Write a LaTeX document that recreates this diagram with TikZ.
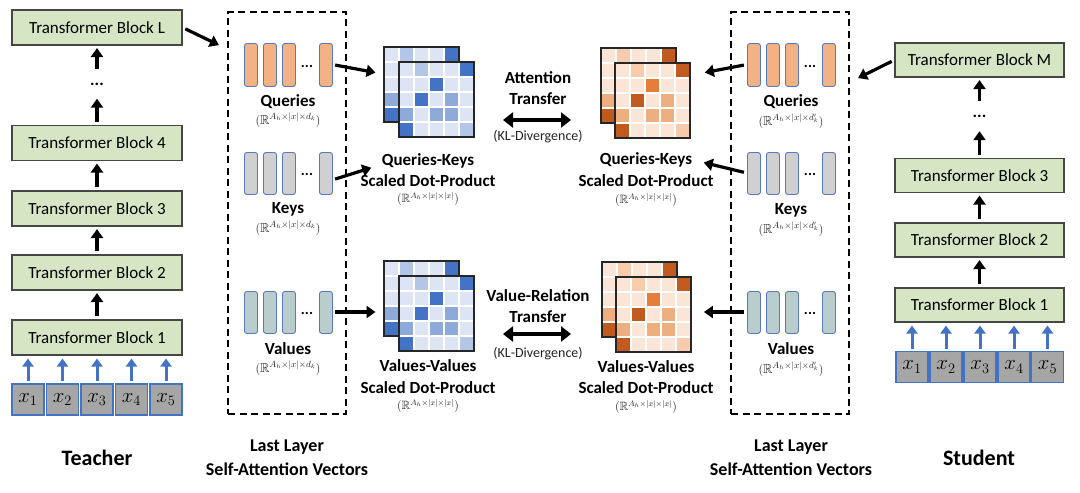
\documentclass[tikz,border=0pt]{standalone}
\usepackage{amssymb}
\usepackage[no-math]{fontspec}
\setmainfont{Carlito}
\usetikzlibrary{arrows.meta,calc}
\definecolor{blkgreen}{RGB}{214,230,196}
\definecolor{blkline}{RGB}{70,70,70}
\definecolor{tokgray}{RGB}{166,166,166}
\definecolor{myblue}{RGB}{68,114,196}
\definecolor{qfill}{RGB}{242,178,134}
\definecolor{kfill}{RGB}{208,208,208}
\definecolor{vfill}{RGB}{186,205,205}
\definecolor{barline}{RGB}{90,120,190}
\definecolor{mathgray}{RGB}{35,35,35}
\definecolor{mb0}{RGB}{221,228,243}
\definecolor{mb1}{RGB}{180,198,231}
\definecolor{mb2}{RGB}{142,170,219}
\definecolor{mb3}{RGB}{68,114,196}
\definecolor{mb4}{RGB}{68,114,196}
\definecolor{mo0}{RGB}{251,229,214}
\definecolor{mo1}{RGB}{248,203,173}
\definecolor{mo2}{RGB}{238,175,128}
\definecolor{mo3}{RGB}{192,90,30}
\definecolor{mo4}{RGB}{228,126,58}
\newcommand\attnmat[3]{%
  \node[inner sep=0, minimum size=75pt, anchor=north west, fill=white] (#1) at #2 {};
  \foreach \rw [count=\i] in {{0,1,0,0,3},{0,0,4,0,0},{0,3,0,2,0},{2,0,2,2,0},{3,0,0,0,1}}{
    \foreach \v [count=\j] in \rw {
      \filldraw[fill=#3\v, draw=white, line width=1.2pt] ($(#1.north west)+({(\j-1)*15},{(\i-1)*15})$) rectangle ++(15,15);
    }
  }
  \draw[line width=2pt, black!85] (#1.north west) rectangle (#1.south east);
}
\tikzset{
  block/.style={draw=blkline, fill=blkgreen, line width=1.1pt, minimum width=170pt, minimum height=35pt, inner sep=0, font=\fontsize{17}{20}\selectfont},
  token/.style={draw=myblue, fill=tokgray, line width=1.1pt, minimum width=32pt, minimum height=31pt, inner sep=0, font=\fontsize{20}{24}\selectfont},
  dotsn/.style={minimum height=24pt, inner sep=0, font=\bfseries\fontsize{17}{20}\selectfont},
  bar/.style={draw=barline, line width=0.9pt, rounded corners=2.5pt, minimum width=13pt, minimum height=43pt, inner sep=0, anchor=north west},
  grp/.style={inner sep=0, minimum width=88pt, minimum height=43pt},
  lbl/.style={inner sep=1pt, font=\bfseries\fontsize{17}{20}\selectfont},
  biglbl/.style={inner sep=1pt, font=\bfseries\fontsize{18}{21}\selectfont},
  actor/.style={font=\bfseries\fontsize{22}{26}\selectfont},
  mathl/.style={inner sep=0.5pt, text=mathgray, font=\fontsize{13}{15}\selectfont},
  kl/.style={inner sep=1pt, text=mathgray, font=\fontsize{14}{16}\selectfont},
  dbox/.style={draw, dash pattern=on 7pt off 4.5pt, line width=1.6pt, minimum width=118pt, minimum height=402pt, inner sep=0},
  arr/.style={line width=3.2pt, -{Triangle[length=9pt,width=12pt]}, shorten <=3pt, shorten >=2.5pt},
  barr/.style={draw=myblue, line width=3pt, -{Triangle[length=8pt,width=11pt]}, shorten <=2pt, shorten >=3pt},
  darr/.style={line width=4pt, {Triangle[length=10pt,width=15pt]}-{Triangle[length=10pt,width=15pt]}}
}
\begin{document}
\begin{tikzpicture}[x=1pt,y=-1pt]
\useasboundingbox[fill=white] (0,0) rectangle (1080,493);

% ---------- Teacher column ----------
\node[block] (tL) at (97,27.5) {Transformer Block L};
\node[dotsn] (tDots) at (97,84) {...};
\node[block] (t4) at (97,143) {Transformer Block 4};
\node[block] (t3) at (97,208.5) {Transformer Block 3};
\node[block] (t2) at (97,272.5) {Transformer Block 2};
\node[block] (t1) at (97,337.5) {Transformer Block 1};
\foreach \xx [count=\k] in {28,62.5,97,131.5,166}{
  \node[token] (tx\k) at (\xx,399.5) {$x_{\k}$};
  \draw[barr] (tx\k.north) -- (tx\k.north |- t1.south);
}
\draw[arr] (t1.north) -- (t2.south);
\draw[arr] (t2.north) -- (t3.south);
\draw[arr] (t3.north) -- (t4.south);
\draw[arr] (t4.north) -- (tDots.south);
\draw[arr] (tDots.north) -- (tL.south);
\node[actor] (teacher) at (97,458) {Teacher};

% ---------- Student column ----------
\node[block, minimum width=169pt, minimum height=34pt] (sM) at (979.5,60) {Transformer Block M};
\node[dotsn] (sDots) at (979.5,116.5) {...};
\node[block, minimum width=169pt, minimum height=34pt] (s3) at (979.5,175.5) {Transformer Block 3};
\node[block, minimum width=169pt, minimum height=34pt] (s2) at (979.5,240) {Transformer Block 2};
\node[block, minimum width=169pt, minimum height=34pt] (s1) at (979.5,305) {Transformer Block 1};
\foreach \xx [count=\k] in {912,946,980,1014,1047.5}{
  \node[token] (sx\k) at (\xx,367) {$x_{\k}$};
  \draw[barr] (sx\k.north) -- (sx\k.north |- s1.south);
}
\draw[arr] (s1.north) -- (s2.south);
\draw[arr] (s2.north) -- (s3.south);
\draw[arr] (s3.north) -- (sDots.south);
\draw[arr] (sDots.north) -- (sM.south);
\node[actor] (student) at (979,458) {Student};

% ---------- dashed boxes ----------
\node[dbox] (boxT) at (287,213) {};
\node[dbox] (boxS) at (790,213) {};

% bars
\foreach \xx in {0,19,38,75}{
  \node[bar, fill=qfill] (qTb\xx) at (244+\xx,43) {};
  \node[bar, fill=kfill, minimum height=42pt] (kTb\xx) at (244+\xx,152) {};
  \node[bar, fill=vfill, minimum height=42pt] (vTb\xx) at (244+\xx,291) {};
  \node[bar, fill=qfill] (qSb\xx) at (747+\xx,43) {};
  \node[bar, fill=kfill, minimum height=42pt] (kSb\xx) at (747+\xx,152) {};
  \node[bar, fill=vfill, minimum height=42pt] (vSb\xx) at (747+\xx,291) {};
}
\node[dotsn, minimum height=0pt, font=\bfseries\fontsize{15}{18}\selectfont] (qTd) at (307,66) {...};
\node[dotsn, minimum height=0pt, font=\bfseries\fontsize{15}{18}\selectfont] (kTd) at (307,174) {...};
\node[dotsn, minimum height=0pt, font=\bfseries\fontsize{15}{18}\selectfont] (vTd) at (307,313) {...};
\node[dotsn, minimum height=0pt, font=\bfseries\fontsize{15}{18}\selectfont] (qSd) at (810,66) {...};
\node[dotsn, minimum height=0pt, font=\bfseries\fontsize{15}{18}\selectfont] (kSd) at (810,174) {...};
\node[dotsn, minimum height=0pt, font=\bfseries\fontsize{15}{18}\selectfont] (vSd) at (810,313) {...};

\node[grp] (qT) at (288,64.5) {};
\node[grp] (kT) at (288,173) {};
\node[grp] (vT) at (288,312) {};
\node[grp] (qS) at (791,64.5) {};
\node[grp] (kS) at (791,173) {};
\node[grp] (vS) at (791,312) {};

\node[lbl] (qTl) at (288,102) {Queries};
\node[mathl] (qTm) at (288,120) {$(\mathbb{R}^{A_h\times|x|\times d_k})$};
\node[lbl] (kTl) at (288,209) {Keys};
\node[mathl] (kTm) at (288,228) {$(\mathbb{R}^{A_h\times|x|\times d_k})$};
\node[lbl] (vTl) at (288,349) {Values};
\node[mathl] (vTm) at (288,368) {$(\mathbb{R}^{A_h\times|x|\times d_k})$};

\node[lbl] (qSl) at (791,102) {Queries};
\node[mathl] (qSm) at (791,121) {$(\mathbb{R}^{A_h\times|x|\times d'_k})$};
\node[lbl] (kSl) at (791,210) {Keys};
\node[mathl] (kSm) at (791,229) {$(\mathbb{R}^{A_h\times|x|\times d'_k})$};
\node[lbl] (vSl) at (791,349) {Values};
\node[mathl] (vSm) at (791,369) {$(\mathbb{R}^{A_h\times|x|\times d'_k})$};

\node[biglbl] (llT1) at (287,447) {Last Layer};
\node[biglbl] (llT2) at (287,469) {Self-Attention Vectors};
\node[biglbl] (llS1) at (791,447) {Last Layer};
\node[biglbl] (llS2) at (791,469) {Self-Attention Vectors};

% ---------- matrices ----------
\attnmat{mT1b}{(384,47)}{mb}
\attnmat{mT1f}{(399,62)}{mb}
\attnmat{mS1b}{(601,48)}{mo}
\attnmat{mS1f}{(615,63)}{mo}
\attnmat{mT2b}{(384,261)}{mb}
\attnmat{mT2f}{(399,276)}{mb}
\attnmat{mS2b}{(602,262)}{mo}
\attnmat{mS2f}{(616,277)}{mo}

\node[lbl] (qkT1) at (428,161) {Queries-Keys};
\node[lbl] (qkT2) at (428,181) {Scaled Dot-Product};
\node[mathl, font=\fontsize{12}{14}\selectfont] (qkT3) at (428,199) {$(\mathbb{R}^{A_h\times|x|\times|x|})$};
\node[lbl] (qkS1) at (646,160) {Queries-Keys};
\node[lbl] (qkS2) at (646,181) {Scaled Dot-Product};
\node[mathl, font=\fontsize{12}{14}\selectfont] (qkS3) at (646,200) {$(\mathbb{R}^{A_h\times|x|\times|x|})$};
\node[lbl] (vvT1) at (428,366) {Values-Values};
\node[lbl] (vvT2) at (428,388) {Scaled Dot-Product};
\node[mathl, font=\fontsize{12}{14}\selectfont] (vvT3) at (428,406) {$(\mathbb{R}^{A_h\times|x|\times|x|})$};
\node[lbl] (vvS1) at (646,367) {Values-Values};
\node[lbl] (vvS2) at (646,388) {Scaled Dot-Product};
\node[mathl, font=\fontsize{12}{14}\selectfont] (vvS3) at (646,407) {$(\mathbb{R}^{A_h\times|x|\times|x|})$};

% ---------- transfer labels ----------
\node[lbl] (at1) at (538,78) {Attention};
\node[lbl] (at2) at (538,99) {Transfer};
\coordinate (atL) at (503,120);
\coordinate (atR) at (571,120);
\draw[darr] (atL) -- (atR);
\node[kl] (atk) at (538,137) {(KL-Divergence)};
\node[lbl] (vr1) at (538,296) {Value-Relation};
\node[lbl] (vr2) at (538,317) {Transfer};
\coordinate (vrL) at (503,334);
\coordinate (vrR) at (571,334);
\draw[darr] (vrL) -- (vrR);
\node[kl] (vrk) at (538,354) {(KL-Divergence)};

% ---------- connectors ----------
\draw[arr] (tL.east) -- ($(boxT.north west)+(-6,35)$);
\draw[arr] (qT.east) -- ($(mT1b.north west)+(-6,26)$);
\draw[arr] ($(kT.east)+(0,7)$) -- ($(qkT1.west)+(-7,6)$);
\draw[arr] (vT.east) -- ($(mT2b.west |- vT.east)+(-6,0)$);
\draw[arr] (sM.west) -- ($(boxS.north east)+(6,68)$);
\draw[arr] (qS.west) -- ($(mS1f.north east)+(12,10)$);
\draw[arr] (kS.west) -- ($(qkS1.east)+(8,2)$);
\draw[arr] (vS.west) -- ($(mS2f.east |- vS.west)+(10,0)$);
\end{tikzpicture}
\end{document}
